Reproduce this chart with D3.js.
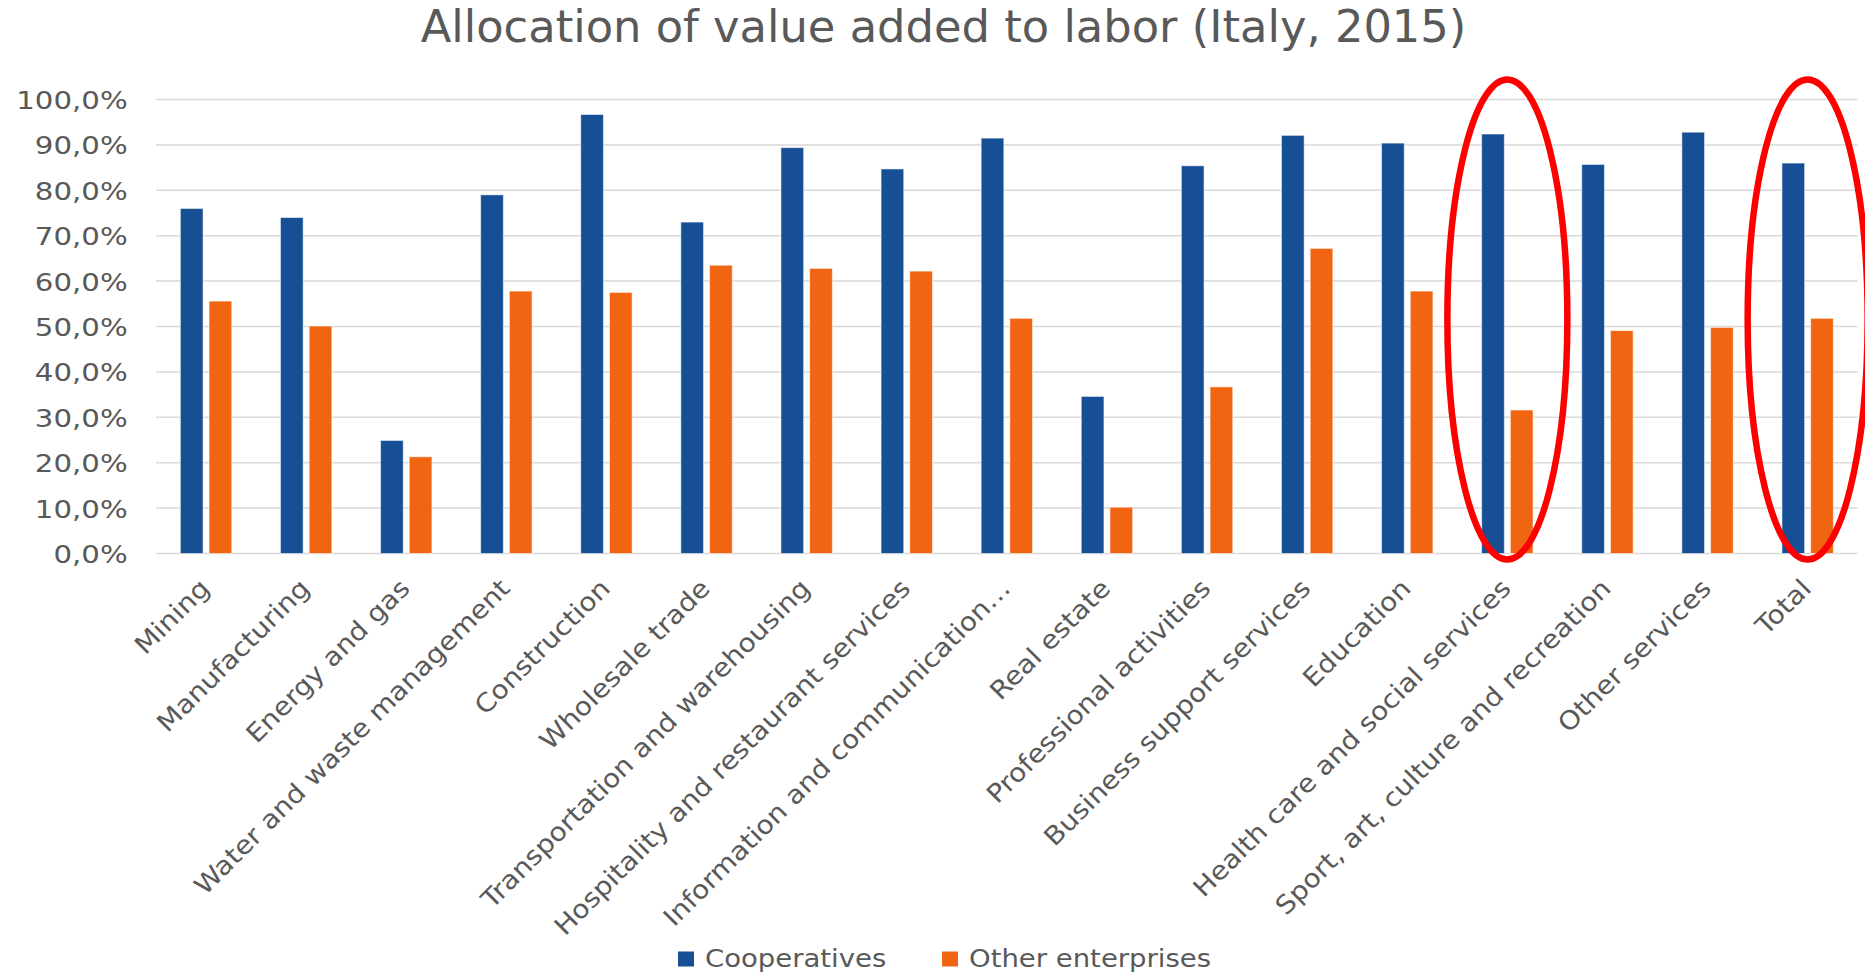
<!DOCTYPE html>
<html>
<head>
<meta charset="utf-8">
<script src="https://cdn.jsdelivr.net/npm/d3@7"></script>
<style>
  html, body { margin: 0; padding: 0; background: #ffffff; }
  svg { display: block; }
  text { font-family: "DejaVu Sans", Verdana, sans-serif; fill: #595959; }
</style>
</head>
<body>
<svg id="chart" width="1865" height="976"></svg>
<script>
const title = "Allocation of value added to labor (Italy, 2015)";
const categories = [
  "Mining", "Manufacturing", "Energy and gas", "Water and waste management",
  "Construction", "Wholesale trade", "Transportation and warehousing",
  "Hospitality and restaurant services", "Information and communication…",
  "Real estate", "Professional activities", "Business support services",
  "Education", "Health care and social services",
  "Sport, art, culture and recreation", "Other services", "Total"
];
const seriesNames = ["Cooperatives", "Other enterprises"];
const cooperatives = [76.0, 74.0, 24.9, 79.0, 96.7, 73.0, 89.4, 84.7, 91.5, 34.6, 85.4, 92.1, 90.4, 92.4, 85.7, 92.8, 86.0];
const otherEnterprises = [55.6, 50.1, 21.3, 57.8, 57.5, 63.5, 62.8, 62.2, 51.8, 10.2, 36.7, 67.2, 57.8, 31.6, 49.1, 49.8, 51.8];
const yTicks = [0, 10, 20, 30, 40, 50, 60, 70, 80, 90, 100];
const highlighted = ["Health care and social services", "Total"];

const colors = ["#174f95", "#f16512"];
const svg = d3.select("#chart");

const x = d3.scaleBand().domain(categories).range([156, 1857.7]).padding(0);
const y = d3.scaleLinear().domain([0, 100]).range([553.5, 99.5]);

const barW = 22.7, gap = 6;
const groupStart = (x.bandwidth() - (2 * barW + gap)) / 2;

// gridlines
svg.append("g")
  .selectAll("line")
  .data(yTicks)
  .join("line")
  .attr("x1", x.range()[0]).attr("x2", x.range()[1])
  .attr("y1", d => y(d)).attr("y2", d => y(d))
  .attr("stroke", "#d9d9d9").attr("stroke-width", 1.5);

// y axis labels
const yScaleX = 1.17;
const yAxis = svg.append("g")
  .attr("transform", `translate(${x.range()[0]},0)`)
  .call(d3.axisLeft(y).tickValues(yTicks).tickSize(0).tickPadding(0)
    .tickFormat(d => d.toFixed(1).replace(".", ",") + "%"));
yAxis.select(".domain").remove();
yAxis.selectAll("text")
  .attr("x", -28.3 / yScaleX)
  .attr("dy", "0.36em")
  .attr("transform", `scale(${yScaleX},1)`)
  .style("font-size", "25px")
  .style("font-family", "'DejaVu Sans', Verdana, sans-serif")
  .attr("fill", "#595959");

// bars
const data = categories.map((c, i) => ({ c, vals: [cooperatives[i], otherEnterprises[i]] }));
const groups = svg.append("g").selectAll("g").data(data).join("g")
  .attr("transform", d => `translate(${x(d.c)},0)`);
groups.selectAll("rect")
  .data(d => d.vals.map((v, k) => ({ v, k })))
  .join("rect")
  .attr("x", d => groupStart + d.k * (barW + gap))
  .attr("width", barW)
  .attr("y", d => y(d.v))
  .attr("height", d => y(0) - y(d.v))
  .attr("fill", d => colors[d.k])
  .attr("stroke", "#ffffff").attr("stroke-opacity", 0.55).attr("stroke-width", 1);

// x labels
svg.append("g").selectAll("text").data(categories).join("text")
  .attr("transform", d => `translate(${x(d) + x.bandwidth() / 2 + 5},590) rotate(-45) scale(1.1,1)`)
  .attr("text-anchor", "end")
  .style("font-size", "25.5px")
  .text(d => d);

// title
svg.append("g").attr("transform", "translate(943.5,42) scale(1.12,1.1)")
  .append("text").attr("text-anchor", "middle").style("font-size", "40px").text(title);

// legend
const legendX = [678, 942];
const lg = svg.append("g").selectAll("g").data(seriesNames).join("g")
  .attr("transform", (d, i) => `translate(${legendX[i]},0)`);
lg.append("rect").attr("x", 0).attr("y", 951.5).attr("width", 16).attr("height", 15)
  .attr("fill", (d, i) => colors[i]);
lg.append("g").attr("transform", "translate(27,966.7) scale(1.1,1)")
  .append("text").style("font-size", "25px").text(d => d);

// red ellipse annotations
svg.append("g").selectAll("ellipse").data(highlighted).join("ellipse")
  .attr("cx", d => x(d) + x.bandwidth() / 2)
  .attr("cy", 319.5)
  .attr("rx", 60)
  .attr("ry", 240)
  .attr("fill", "none")
  .attr("stroke", "#ff0000")
  .attr("stroke-width", 6.5);
</script>
</body>
</html>
